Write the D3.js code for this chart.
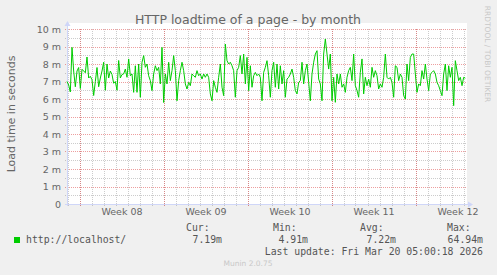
<!DOCTYPE html>
<html><head><meta charset="utf-8">
<script src="https://cdn.jsdelivr.net/npm/d3@7"></script>
<style>
html,body{margin:0;padding:0;background:#F0F0F0;}
svg{display:block;}
text{font-family:"DejaVu Sans",sans-serif;}
.mono text{font-family:"DejaVu Sans Mono",monospace;}
</style></head><body>
<svg id="c" width="497" height="275"></svg>
<script>
// ---- data ----
const title = "HTTP loadtime of a page - by month";
const yAxisLabel = "Load time in seconds";
const seriesName = "http://localhost/";
// domain of the month graph (UTC)
const timeStart = "2026-02-14T23:00:00Z";
const timeEnd = "2026-03-20T07:00:00Z";
const sampleMinutes = 200;
// load time, in milliseconds ("m" = 1e-3 s), one value per sample
const loadTime = [
 7.0,6.8,6.4,8.95,7.6,6.7,7.6,7.8,6.6,7.7,7.6,7.5,8.4,7.2,7.3,7.1,6.2,7.0,7.8,6.7,7.2,7.6,8.1,6.5,8.0,7.2,7.6,7.4,6.9,7.0,6.5,8.2,7.2,7.4,
 7.43,7.71,7.24,8.29,7.33,7.43,6.38,7.9,6.38,8.0,6.1,8.1,8.48,7.81,8.0,7.33,7.05,6.48,7.43,7.9,7.62,7.81,6.86,8.95,5.8,7.43,6.86,8.1,7.05,7.62,8.48,7.62,5.9,7.05,
 7.62,8.1,7.62,6.86,6.57,6.95,6.76,7.43,7.33,7.24,7.62,7.33,7.43,7.14,7.43,7.24,7.43,7.24,6.29,5.9,7.05,6.67,6.38,7.24,8.0,6.67,6.19,9.14,8.19,8.0,8.1,7.9,7.62,6.1,7.62,
 7.81,8.48,7.43,8.57,6.86,8.38,6.48,7.9,6.67,7.33,7.52,7.33,7.43,7.24,5.9,7.52,7.81,8.19,7.33,6.1,7.62,8.1,6.67,8.0,6.57,7.9,6.86,7.62,6.1,7.14,7.24,7.43,7.71,7.24,6.48,
 6.29,6.95,7.05,8.1,6.86,7.62,8.0,6.95,5.9,7.43,8.1,8.57,8.76,7.14,6.86,5.9,8.57,9.43,8.57,7.71,8.57,5.9,7.24,5.81,7.43,6.86,7.43,6.67,6.86,6.38,7.24,7.62,7.81,7.05,8.57,
 6.76,6.48,6.1,7.52,8.29,6.29,7.24,6.76,7.14,6.67,7.81,7.24,7.62,7.33,6.57,6.86,6.67,7.24,8.57,7.24,7.14,7.24,6.95,6.1,7.9,7.81,7.05,7.43,7.24,6.19,6.0,8.0,7.05,8.38,8.57,
 8.57,7.43,6.38,6.86,6.76,7.62,7.14,8.0,7.14,6.48,7.43,7.52,7.62,7.43,6.95,6.76,6.48,6.19,7.43,8.0,6.48,7.9,7.24,7.81,5.62,8.19,7.62,7.05,7.24,6.76,7.24,7.19
];
const yTickValues = [0,1,2,3,4,5,6,7,8,9,10];
const yTickLabels = ["0","1 m","2 m","3 m","4 m","5 m","6 m","7 m","8 m","9 m","10 m"];
const weekStarts = ["2026-02-16","2026-02-23","2026-03-02","2026-03-09","2026-03-16"];
const weekLabels = ["Week 08","Week 09","Week 10","Week 11","Week 12"];
const legendHeaders = ["Cur:","Min:","Avg:","Max:"];
const legendValues = ["7.19m","4.91m","7.22m","64.94m"];
const lastUpdate = "Last update: Fri Mar 20 05:00:18 2026";
const footer = "Munin 2.0.75";
const watermark = "RRDTOOL / TOBI OETIKER";

// ---- layout ----
const P = {l:67, r:467, t:29, b:204};
const svg = d3.select("#c");
const x = d3.scaleUtc().domain([new Date(timeStart), new Date(timeEnd)]).range([P.l, P.r]);
const y = d3.scaleLinear().domain([0,10]).range([P.b, P.t]);

const data = loadTime.map((v,i)=>({t:new Date(new Date(timeStart).getTime()+i*sampleMinutes*60000), v}));

// canvas
svg.append("rect").attr("x",P.l).attr("y",P.t-6).attr("width",P.r-P.l).attr("height",P.b-P.t+6).attr("fill","#fff");

const g = svg.append("g");
const minorY = d3.range(0.5,10,1);
g.selectAll(".hmin").data(minorY).join("line")
 .attr("x1",P.l-2).attr("x2",P.r).attr("y1",d=>Math.round(y(d))+0.5).attr("y2",d=>Math.round(y(d))+0.5)
 .attr("stroke","#8F8F8F").attr("stroke-opacity",0.45).attr("stroke-dasharray","1,1");
const days = d3.utcDay.range(x.domain()[0], x.domain()[1]);
g.selectAll(".vmin").data(days).join("line")
 .attr("x1",d=>Math.round(x(d))+0.5).attr("x2",d=>Math.round(x(d))+0.5).attr("y1",P.t).attr("y2",P.b+2)
 .attr("stroke","#8F8F8F").attr("stroke-opacity",0.45).attr("stroke-dasharray","1,1");
g.selectAll(".hmaj").data(yTickValues.slice(1)).join("line")
 .attr("x1",P.l-2).attr("x2",P.r).attr("y1",d=>Math.round(y(d))+0.5).attr("y2",d=>Math.round(y(d))+0.5)
 .attr("stroke","#DE4F4F").attr("stroke-opacity",0.55).attr("stroke-dasharray","1,1");
const weeks = weekStarts.map(s=>new Date(s+"T00:00:00Z"));
g.selectAll(".vmaj").data(weeks).join("line")
 .attr("x1",d=>Math.round(x(d))+0.5).attr("x2",d=>Math.round(x(d))+0.5).attr("y1",P.t).attr("y2",P.b+2)
 .attr("stroke","#DE4F4F").attr("stroke-opacity",0.55).attr("stroke-dasharray","1,1");

// axes lines + arrows
const axisCol = "#CFD6F8";
svg.append("line").attr("x1",P.l-2).attr("x2",P.r+2).attr("y1",P.b+0.5).attr("y2",P.b+0.5).attr("stroke",axisCol);
svg.append("line").attr("x1",P.l+0.5).attr("x2",P.l+0.5).attr("y1",P.b+2).attr("y2",P.t-5).attr("stroke",axisCol);
svg.append("path").attr("d",`M${P.r+1},${P.b-2.5}L${P.r+6},${P.b+0.5}L${P.r+1},${P.b+3.5}Z`).attr("fill",axisCol);
svg.append("path").attr("d",`M${P.l-2.5},${P.t-3}L${P.l+0.5},${P.t-8}L${P.l+3.5},${P.t-3}Z`).attr("fill",axisCol);

// y axis labels
const yAx = d3.axisLeft(y).tickValues(yTickValues).tickSize(0).tickPadding(0)
  .tickFormat((d,i)=>yTickLabels[i]);
const ya = svg.append("g").attr("transform",`translate(${P.l-6},0)`).call(yAx);
ya.select(".domain").remove();
ya.selectAll("text").attr("fill","#666").attr("font-size","9.5px").attr("font-family","DejaVu Sans");

// x axis labels (centred mid-week)
const mids = weeks.map(d=>new Date(d.getTime()+3.5*86400000));
const xAx = d3.axisBottom(x).tickValues(mids).tickSize(0).tickPadding(0).tickFormat((d,i)=>weekLabels[i]);
const xa = svg.append("g").attr("transform",`translate(0,${P.b+4})`).call(xAx);
xa.select(".domain").remove();
xa.selectAll("text").attr("fill","#666").attr("font-size","9.5px").attr("font-family","DejaVu Sans");

// line
const line = d3.line().x(d=>x(d.t)).y(d=>y(d.v));
svg.append("path").datum(data).attr("d",line).attr("fill","none").attr("stroke","#00CC00").attr("stroke-width",1);

// title
svg.append("text").attr("x",248).attr("y",24).attr("text-anchor","middle").attr("font-size","12.5px").attr("fill","#666").text(title);
// y label
svg.append("text").attr("transform","translate(15,114) rotate(-90)").attr("text-anchor","middle").attr("font-size","11px").attr("fill","#666").text(yAxisLabel);
// watermark
svg.append("text").attr("transform","translate(485,54) rotate(90)").attr("text-anchor","middle").attr("font-size","7.5px").attr("fill","#C8C8C8").text(watermark);

// legend
svg.append("rect").attr("x",14).attr("y",237).attr("width",6).attr("height",6).attr("fill","#00CC00");
const lg = svg.append("g").attr("class","mono").attr("font-size","9.8px").attr("fill","#555");
lg.append("text").attr("x",26).attr("y",243).text(seriesName);
const colRight = [222, 308, 396, 483];
const colHead = [186, 273, 360, 447];
legendHeaders.forEach((h,i)=>lg.append("text").attr("x",colHead[i]).attr("y",231).text(h));
legendValues.forEach((v,i)=>lg.append("text").attr("x",colRight[i]).attr("y",243).attr("text-anchor","end").text(v));
lg.append("text").attr("x",483).attr("y",255).attr("text-anchor","end").text(lastUpdate);
svg.append("text").attr("x",248).attr("y",266).attr("text-anchor","middle").attr("font-size","7.5px").attr("fill","#C8C8C8").text(footer);
</script>
</body></html>
